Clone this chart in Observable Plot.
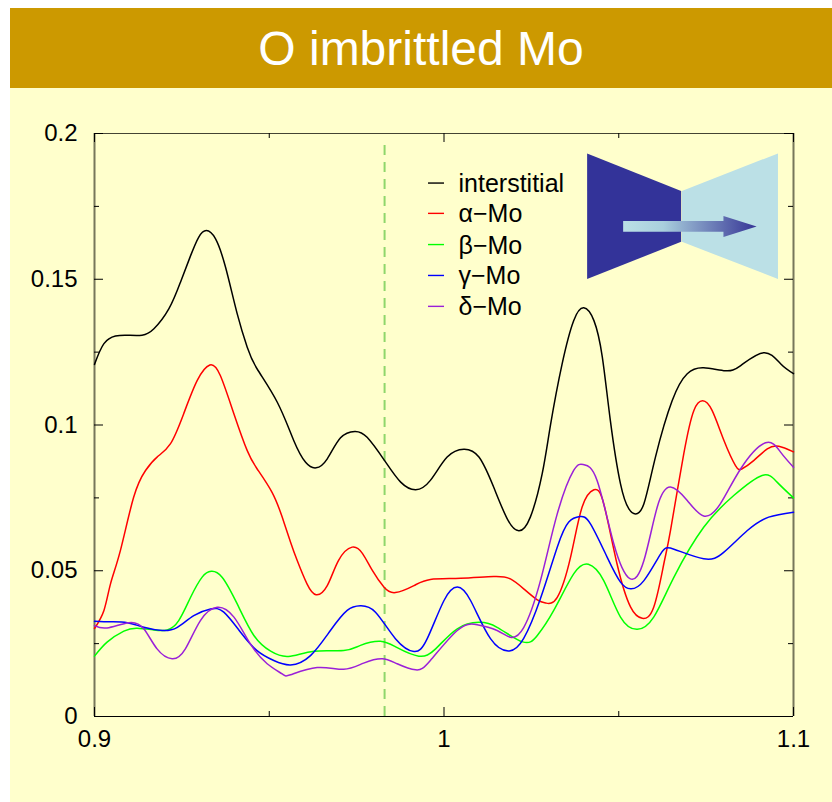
<!DOCTYPE html>
<html>
<head>
<meta charset="utf-8">
<script src="https://cdn.jsdelivr.net/npm/d3@7"></script>
<script src="https://cdn.jsdelivr.net/npm/@observablehq/plot@0.6"></script>
<style>
html,body{margin:0;padding:0;background:#fff;}
#wrap{position:absolute;left:10px;top:8px;width:822px;height:794px;background:#ffffcc;overflow:hidden;font-family:"Liberation Sans",sans-serif;}
#title{height:80px;line-height:81px;background:#cc9900;color:#fff;text-align:center;font-size:48px;}
svg{display:block;}
</style>
</head>
<body>
<div id="wrap"><div id="title">O imbrittled Mo</div></div>
<script>
const interstitialX=[.9,.9027,.906,.9094,.9136,.917,.9213,.9246,.9275,.9298,.932,.9346,.9375,.9408,.9437,.9465,.9523,.957,.9604,.9634,.9666,.9704,.9745,.978,.983,.9876,.9919,.9961,1.0009,1.0057,1.01,1.0142,1.0181,1.0214,1.0247,1.0281,1.0305,1.0338,1.0371,1.04,1.0429,1.0453,1.0476,1.0505,1.0529,1.0548,1.0572,1.0605,1.0653,1.0696,1.0743,1.0805,1.0849,1.0915,1.0963,1.1];
const interstitialY=[.1208,.1279,.1305,.1308,.1308,.133,.1399,.149,.1581,.1644,.1667,.1639,.1541,.1383,.1267,.1193,.1078,.0947,.0872,.0853,.0884,.0956,.0978,.0958,.0878,.0804,.0778,.081,.089,.0917,.089,.0787,.0678,.0637,.0684,.0833,.1002,.121,.1358,.1402,.1358,.1233,.1015,.0798,.0712,.0695,.073,.089,.1084,.1176,.1196,.1186,.1204,.1248,.121,.1176];

const alphaX=[.9,.9027,.9046,.9074,.9112,.9146,.9179,.9217,.9255,.9294,.933,.936,.9399,.9437,.9465,.9508,.9537,.9561,.958,.9608,.9634,.9666,.9698,.9737,.9767,.9795,.9828,.9861,.9914,.9961,1.0047,1.0142,1.019,1.0228,1.0267,1.0292,1.0324,1.0362,1.0395,1.0429,1.0457,1.0495,1.0534,1.0567,1.06,1.0629,1.0648,1.0686,1.0715,1.074,1.0767,1.0801,1.0834,1.0853,1.0886,1.0925,1.0958,1.1];
const alphaY=[.0302,.0364,.0456,.0569,.0752,.0844,.089,.0935,.1038,.1153,.1206,.117,.1038,.0912,.085,.0769,.0684,.0598,.0535,.0455,.0418,.0449,.0535,.0581,.0559,.0501,.0444,.0425,.0449,.047,.0474,.048,.0472,.0438,.04,.0389,.0409,.0546,.0718,.0778,.073,.0524,.0375,.0337,.0375,.0524,.0638,.0901,.105,.1083,.105,.0947,.0861,.085,.0878,.0918,.0927,.0908];

const betaX=[.9,.9036,.9084,.9122,.917,.9208,.9241,.9275,.9308,.9334,.9365,.9408,.9456,.9504,.9555,.9628,.9713,.9761,.9818,.9866,.9928,.9976,1.0038,1.01,1.0152,1.0225,1.0267,1.0314,1.0371,1.0413,1.0457,1.0505,1.0553,1.06,1.0658,1.0743,1.0829,1.091,1.0953,1.1];
const betaY=[.0207,.0255,.0293,.0303,.0297,.0297,.0329,.0409,.0478,.0498,.0478,.0387,.0278,.0224,.0206,.0224,.0226,.0244,.0258,.0236,.0207,.0232,.0301,.0323,.0306,.0256,.0278,.0364,.0489,.0522,.0466,.0341,.0299,.0341,.0478,.0649,.0758,.0827,.0804,.075];

const gammaX=[.9,.9046,.9094,.9141,.9194,.9237,.9284,.9332,.937,.9418,.9465,.9513,.9561,.9618,.9675,.9723,.9761,.9804,.9861,.9914,.9952,1,1.0038,1.0076,1.0133,1.0187,1.0228,1.0276,1.0324,1.0357,1.0389,1.0419,1.0467,1.0505,1.0534,1.0572,1.062,1.0658,1.0743,1.0801,1.0868,1.0929,1.1];
const gammaY=[.0327,.0325,.0322,.0306,.0295,.0306,.0346,.0369,.0358,.0289,.0226,.0192,.0177,.0209,.0295,.0364,.038,.0358,.0267,.0223,.0267,.0398,.0444,.0398,.0267,.0225,.0268,.0405,.0581,.0667,.0686,.0661,.0546,.0461,.0438,.0466,.0558,.0574,.0541,.0564,.0638,.0684,.0701];

const deltaX=[.9,.9036,.9098,.9141,.9179,.9222,.926,.9303,.9351,.9399,.9446,.9494,.9537,.9561,.9637,.9713,.977,.9823,.9866,.9919,.9961,1.0038,1.0095,1.0152,1.019,1.0228,1.0276,1.0324,1.0371,1.04,1.0438,1.0486,1.0532,1.0572,1.061,1.0648,1.0696,1.0743,1.0791,1.0849,1.092,1.0963,1.1];
const deltaY=[.0312,.0304,.0322,.0301,.0232,.0198,.0232,.0329,.0375,.0341,.0249,.0181,.0146,.0143,.0168,.0162,.0183,.0198,.0181,.016,.0192,.0295,.0315,.0295,.0272,.0305,.0466,.0695,.0844,.0864,.081,.0592,.0473,.0535,.0718,.0787,.0741,.0688,.073,.085,.0939,.0907,.0855];

const legendLabels=["interstitial","α−Mo","β−Mo","γ−Mo","δ−Mo"];
const legendY=[.183,.1726,.1619,.1513,.1407];
const colors=["#000000","#ff0000","#00ff00","#0000ff","#9a20d8"];

const xMajor=[.9,1,1.1], xMinor=[.95,1.05];
const yMajor=[0,.05,.1,.15,.2], yMinor=[.025,.075,.125,.175];
const markerX=.983;

const bowLeft=[[1.0411,.193],[1.068,.1801],[1.068,.1627],[1.0411,.1499]];
const bowRight=[[1.0682,.1801],[1.0957,.193],[1.0957,.1499],[1.0682,.1627]];
const arrow=[[1.0514,.1698],[1.0801,.1698],[1.0801,.1715],[1.0896,.1679],[1.0801,.1643],[1.0801,.1661],[1.0514,.1661]];

function inset(index,{x,y}){
  const g=d3.create("svg:g");
  const pts=a=>a.map(([u,v])=>`${x(u)},${y(v)}`).join(" ");
  const grad=g.append("defs").append("linearGradient").attr("id","arrowGrad")
    .attr("gradientUnits","userSpaceOnUse").attr("x1",x(arrow[0][0])).attr("x2",x(arrow[3][0])).attr("y1",0).attr("y2",0);
  grad.append("stop").attr("offset",0).attr("stop-color","#bbe0e6");
  grad.append("stop").attr("offset",.3).attr("stop-color","#a9cfdd");
  grad.append("stop").attr("offset",1).attr("stop-color","#363596");
  g.append("polygon").attr("points",pts(bowLeft)).attr("fill","#333399");
  g.append("polygon").attr("points",pts(bowRight)).attr("fill","#bbe0e6");
  g.append("polygon").attr("points",pts(arrow)).attr("fill","url(#arrowGrad)");
  return g.node();
}

const series=[[interstitialX,interstitialY],[alphaX,alphaY],[betaX,betaY],[gammaX,gammaY],[deltaX,deltaY]];
const majX=9/3495, minX=5/3495, majY=9/2915, minY=5/2915;

const chart=Plot.plot({
  width:822,height:714,
  marginLeft:84,marginRight:39,marginTop:45,marginBottom:86,
  style:{background:"transparent",fontFamily:"'Liberation Sans',sans-serif",color:"#000",overflow:"visible"},
  x:{domain:[.9,1.1],axis:null},
  y:{domain:[0,.2],axis:null},
  marks:[
    Plot.ruleY([.2],{stroke:"#444433",strokeWidth:1.2}),
    Plot.ruleY([0],{stroke:"#000",strokeWidth:1.2}),
    Plot.ruleX([.9,1.1],{stroke:"#77775a",strokeWidth:2}),
    Plot.ruleX(xMajor,{y1:0,y2:majY,stroke:"#000"}),
    Plot.ruleX(xMinor,{y1:0,y2:minY,stroke:"#000"}),
    Plot.ruleX(xMajor,{y1:.2,y2:.2-majY,stroke:"#000"}),
    Plot.ruleX(xMinor,{y1:.2,y2:.2-minY,stroke:"#000"}),
    Plot.ruleY(yMajor,{x1:.9,x2:.9+majX,stroke:"#000"}),
    Plot.ruleY(yMinor,{x1:.9,x2:.9+minX,stroke:"#000"}),
    Plot.ruleY(yMajor,{x1:1.1,x2:1.1-majX,stroke:"#000"}),
    Plot.ruleY(yMinor,{x1:1.1,x2:1.1-minX,stroke:"#000"}),
    Plot.text(xMajor,{x:d=>d,y:0,text:d=>String(d).replace(/^0?\.9$/,"0.9"),dy:23,fontSize:24,fill:"#000"}),
    Plot.text(yMajor,{y:d=>d,x:.9,text:d=>String(d),textAnchor:"end",dx:-17,fontSize:24,fill:"#000"}),
    Plot.ruleX([markerX],{y1:0,y2:.1969,stroke:"#8fd66b",strokeWidth:2,strokeDasharray:"10,7"}),
    inset,
    ...series.map(([xs,ys],i)=>Plot.line(ys,{x:xs,y:ys,stroke:colors[i],strokeWidth:1.5,curve:"natural"})),
    ...legendLabels.map((l,i)=>Plot.ruleY([legendY[i]],{x1:.99557,x2:1.00014,stroke:colors[i],strokeWidth:1.4})),
    Plot.text(legendLabels,{x:1.00415,y:(d,i)=>legendY[i],text:d=>d,textAnchor:"start",dy:1,fontSize:25,fill:"#000"})
  ]
});
document.getElementById("wrap").appendChild(chart);
</script>
</body>
</html>
